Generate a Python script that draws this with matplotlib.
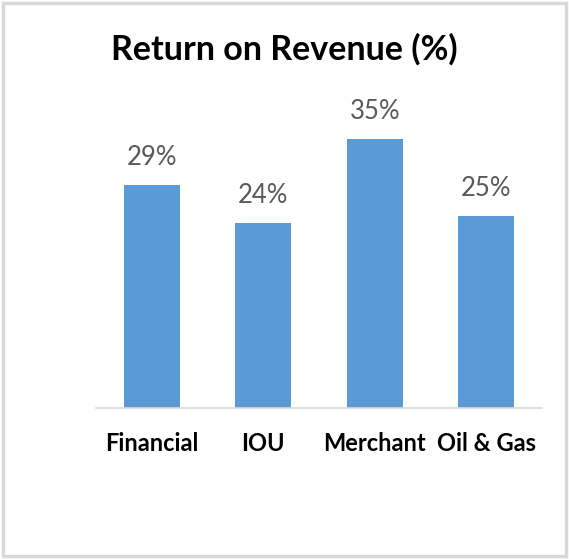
#Return on Revenue bar chart
import matplotlib
matplotlib.use('Agg')
import matplotlib.pyplot as plt
from matplotlib.patches import Rectangle

plt.rcParams['font.family'] = ['Lato', 'DejaVu Sans']

categories = ['Financial', 'IOU', 'Merchant', 'Oil & Gas']
values = [29, 24, 35, 25]
value_labels = ['29%', '24%', '35%', '25%']

bar_color = '#5B9BD5'
label_color = '#595959'

fig = plt.figure(figsize=(5.69, 5.59), dpi=100)

# chart border
fig.patches.append(Rectangle((0.005, 0.005), 0.99, 0.99, transform=fig.transFigure,
                             fill=False, edgecolor='#d9d9d9', linewidth=2.5))

ax = fig.add_axes([0.1687, 0.2701, 0.7838, 0.551])

x = range(len(categories))
bars = ax.bar(x, values, width=0.5, color=bar_color, zorder=2)

ax.set_xlim(-0.5, len(categories) - 0.5)
ax.set_ylim(0, 40)

for xi, v, lab in zip(x, values, value_labels):
    ax.annotate(lab, (xi, v), xytext=(0, 14.4), textcoords='offset points',
                ha='center', va='baseline', fontsize=18.5, color=label_color)

ax.set_xticks(list(x))
ax.set_xticklabels(categories, fontsize=17, fontweight='bold', color='black')
ax.tick_params(axis='x', length=0, pad=17)
ax.set_yticks([])

for s in ['top', 'right', 'left']:
    ax.spines[s].set_visible(False)
ax.spines['bottom'].set_color('#d9d9d9')
ax.spines['bottom'].set_linewidth(1.2)

fig.text(0.5, 0.912, 'Return on Revenue (%)', ha='center', va='center',
         fontsize=24.5, fontweight='bold', color='black')

fig.savefig('out.png', dpi=100)
